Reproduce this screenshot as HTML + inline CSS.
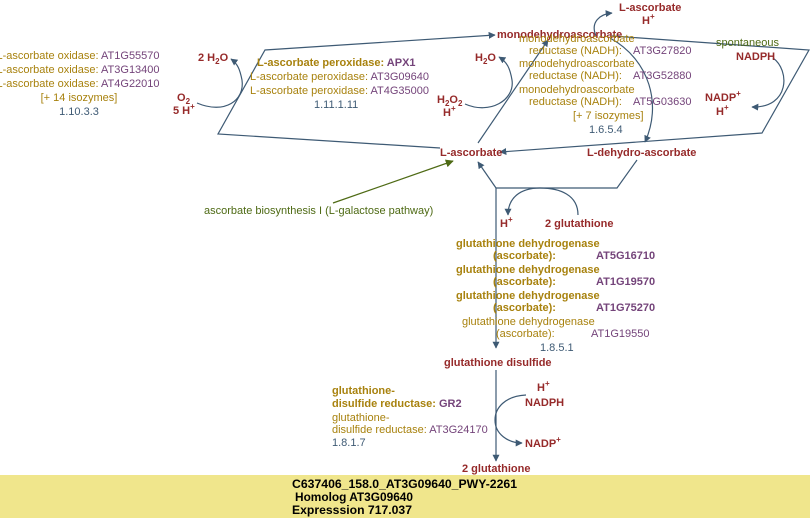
<!DOCTYPE html>
<html><head><meta charset="utf-8"><style>
html,body{margin:0;padding:0;background:#fff;width:810px;height:518px;overflow:hidden}
svg{display:block}
text{font-family:"Liberation Sans",sans-serif;font-size:11px}
.r{fill:#962a2a;font-weight:bold}
.g{fill:#a8820e}
.gb{fill:#a8820e;font-weight:bold}
.p{fill:#74447a}
.pb{fill:#74447a;font-weight:bold}
.b{fill:#3e5a74}
.gr{fill:#4e6a14}
.k{fill:#000;font-weight:bold;font-size:12px}
</style></head><body>
<svg width="810" height="518" viewBox="0 0 810 518" xmlns="http://www.w3.org/2000/svg">
<defs>
<marker id="a" viewBox="0 0 10 10" refX="9" refY="5" markerWidth="7" markerHeight="7" orient="auto" markerUnits="userSpaceOnUse"><path d="M0,0L10,5L0,10z" fill="#3e5a74"/></marker>
<marker id="ag" viewBox="0 0 10 10" refX="9" refY="5" markerWidth="8" markerHeight="8" orient="auto" markerUnits="userSpaceOnUse"><path d="M0,0L10,5L0,10z" fill="#4e6a14"/></marker>
</defs>
<g fill="none" stroke="#3e5a74" stroke-width="1.2">
<path d="M440,148 L218,134 L265,50 L495,35" marker-end="url(#a)"/>
<path d="M612,36 L809,50 L762,133 L500,152" marker-end="url(#a)"/>
<path d="M478,143 L548,40" marker-end="url(#a)"/>
<path d="M465,104 C490,115 515,100 512,80 C510,68 507,62 499,57" marker-end="url(#a)"/>
<path d="M197,103 C225,115 245,100 242,80 C240,70 238,64 231,59" marker-end="url(#a)"/>
<path d="M596,36 C590,22 600,14 612,13" marker-end="url(#a)"/>
<path d="M610,38 C650,60 662,105 645,142" marker-end="url(#a)"/>
<path d="M773,58 C790,70 790,108 752,107" marker-end="url(#a)"/>
<path d="M637,160 L617,188 L496,188"/>
<path d="M496,188 L478,162" marker-end="url(#a)"/>
<path d="M496,188 L496,348" marker-end="url(#a)"/>
<path d="M578,215 C578,195 560,188 540,188 C520,188 508,198 508,215" marker-end="url(#a)"/>
<path d="M496,370 L496,461" marker-end="url(#a)"/>
<path d="M526,395 C505,396 495,408 495,420 C495,434 508,443 522,443" marker-end="url(#a)"/>
</g>
<path d="M333,203 L453,161" stroke="#4e6a14" stroke-width="1.2" fill="none" marker-end="url(#ag)"/>

<g text-anchor="middle">
<text x="78" y="59"><tspan class="g">L-ascorbate oxidase:</tspan><tspan class="p">  AT1G55570</tspan></text>
<text x="78" y="73"><tspan class="g">L-ascorbate oxidase:</tspan><tspan class="p">  AT3G13400</tspan></text>
<text x="78" y="87"><tspan class="g">L-ascorbate oxidase:</tspan><tspan class="p">  AT4G22010</tspan></text>
<text x="79" y="101" class="g">[+ 14 isozymes]</text>
<text x="79" y="115" class="b">1.10.3.3</text>
</g>
<text x="198" y="61" class="r">2 H<tspan font-size="8" dy="3">2</tspan><tspan dy="-3">O</tspan></text>
<text x="177" y="101" class="r">O<tspan font-size="8" dy="3">2</tspan></text>
<text x="173" y="114" class="r">5 H<tspan font-size="8" dy="-5">+</tspan></text>

<text x="257" y="66"><tspan class="gb">L-ascorbate peroxidase:</tspan><tspan class="pb">  APX1</tspan></text>
<text x="250" y="80"><tspan class="g">L-ascorbate peroxidase:</tspan><tspan class="p"> AT3G09640</tspan></text>
<text x="250" y="94"><tspan class="g">L-ascorbate peroxidase:</tspan><tspan class="p"> AT4G35000</tspan></text>
<text x="314" y="108" class="b">1.11.1.11</text>

<text x="475" y="61" class="r">H<tspan font-size="8" dy="3">2</tspan><tspan dy="-3">O</tspan></text>
<text x="437" y="103" class="r">H<tspan font-size="8" dy="3">2</tspan><tspan dy="-3">O</tspan><tspan font-size="8" dy="3">2</tspan></text>
<text x="443" y="116" class="r">H<tspan font-size="8" dy="-5">+</tspan></text>

<text x="497" y="38" class="r">monodehydroascorbate</text>
<text x="519" y="42" class="g">monodehydroascorbate</text>
<text x="529" y="54"><tspan class="g">reductase (NADH):</tspan><tspan class="p" x="633">AT3G27820</tspan></text>
<text x="519" y="67" class="g">monodehydroascorbate</text>
<text x="529" y="79"><tspan class="g">reductase (NADH):</tspan><tspan class="p" x="633">AT3G52880</tspan></text>
<text x="519" y="93" class="g">monodehydroascorbate</text>
<text x="529" y="105"><tspan class="g">reductase (NADH):</tspan><tspan class="p" x="633">AT5G03630</tspan></text>
<text x="573" y="119" class="g">[+ 7 isozymes]</text>
<text x="589" y="133" class="b">1.6.5.4</text>

<text x="619" y="11" class="r">L-ascorbate</text>
<text x="642" y="24" class="r">H<tspan font-size="8" dy="-5">+</tspan></text>
<text x="716" y="46" class="gr">spontaneous</text>
<text x="736" y="60" class="r">NADPH</text>
<text x="705" y="101" class="r">NADP<tspan font-size="8" dy="-5">+</tspan></text>
<text x="716" y="115" class="r">H<tspan font-size="8" dy="-5">+</tspan></text>

<text x="440" y="156" class="r">L-ascorbate</text>
<text x="587" y="156" class="r">L-dehydro-ascorbate</text>
<text x="204" y="214" class="gr">ascorbate biosynthesis I (L-galactose pathway)</text>
<text x="500" y="227" class="r">H<tspan font-size="8" dy="-5">+</tspan></text>
<text x="545" y="227" class="r">2 glutathione</text>

<text x="456" y="247" class="gb">glutathione dehydrogenase</text>
<text x="493" y="259"><tspan class="gb">(ascorbate):</tspan><tspan class="pb" x="596">AT5G16710</tspan></text>
<text x="456" y="273" class="gb">glutathione dehydrogenase</text>
<text x="493" y="285"><tspan class="gb">(ascorbate):</tspan><tspan class="pb" x="596">AT1G19570</tspan></text>
<text x="456" y="299" class="gb">glutathione dehydrogenase</text>
<text x="493" y="311"><tspan class="gb">(ascorbate):</tspan><tspan class="pb" x="596">AT1G75270</tspan></text>
<text x="462" y="325" class="g">glutathione dehydrogenase</text>
<text x="496" y="337"><tspan class="g">(ascorbate):</tspan><tspan class="p" x="591">AT1G19550</tspan></text>
<text x="540" y="351" class="b">1.8.5.1</text>

<text x="444" y="366" class="r">glutathione disulfide</text>
<text x="332" y="394" class="gb">glutathione-</text>
<text x="332" y="407"><tspan class="gb">disulfide reductase:</tspan><tspan class="pb">  GR2</tspan></text>
<text x="332" y="421" class="g">glutathione-</text>
<text x="332" y="433"><tspan class="g">disulfide reductase:</tspan><tspan class="p"> AT3G24170</tspan></text>
<text x="332" y="446" class="b">1.8.1.7</text>
<text x="537" y="391" class="r">H<tspan font-size="8" dy="-5">+</tspan></text>
<text x="525" y="406" class="r">NADPH</text>
<text x="525" y="447" class="r">NADP<tspan font-size="8" dy="-5">+</tspan></text>
<text x="462" y="472" class="r">2 glutathione</text>

<rect x="0" y="475" width="810" height="43" fill="#f0e68c"/>
<text x="292" y="488" class="k" textLength="225" lengthAdjust="spacingAndGlyphs">C637406_158.0_AT3G09640_PWY-2261</text>
<text x="295" y="501" class="k" textLength="118" lengthAdjust="spacingAndGlyphs">Homolog AT3G09640</text>
<text x="292" y="514" class="k" textLength="120" lengthAdjust="spacingAndGlyphs">Expresssion 717.037</text>
</svg>
</body></html>
